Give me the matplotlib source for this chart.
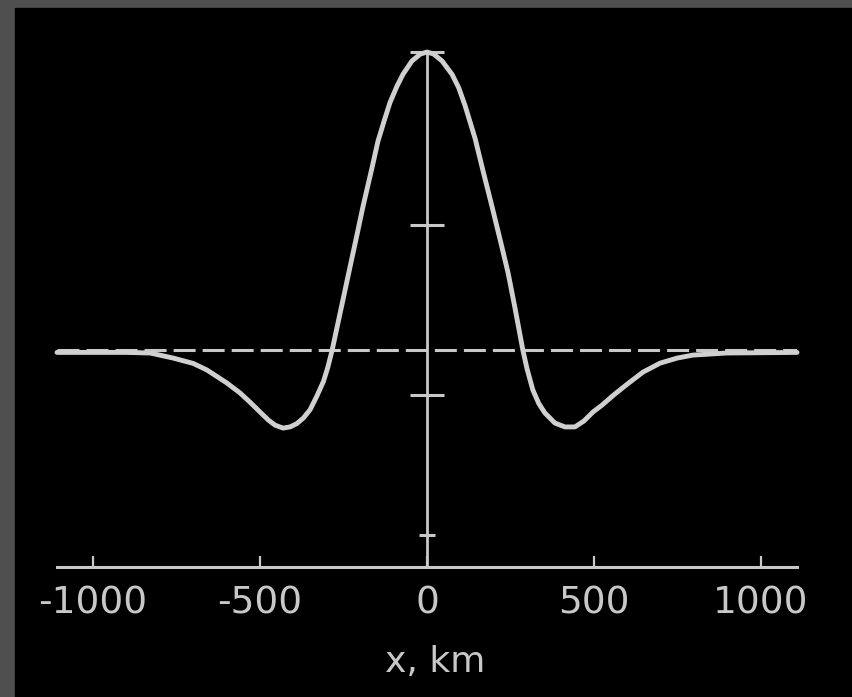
import matplotlib
matplotlib.use("Agg")
import matplotlib.pyplot as plt
from matplotlib.patches import Rectangle

# profile (x in km, y in relative units, peak = 1)
x_km = [-1108, -900, -829, -760, -700, -659, -600, -560, -530, -500, -475, -455, -431,
        -410, -390, -370, -350, -330, -310, -297, -284, -260, -237, -210, -192, -165,
        -147, -128, -111, -90, -72, -45, -20, 0, 20, 45, 75, 95, 114, 144, 168, 195,
        219, 243, 263, 287, 300, 317, 335, 353, 383, 413, 443, 470, 497, 524, 560, 599,
        647, 698, 749, 796, 898, 1108]
y_rel = [-0.008, -0.008, -0.01, -0.027, -0.045, -0.067, -0.11, -0.144, -0.175, -0.208,
         -0.235, -0.252, -0.262, -0.258, -0.247, -0.228, -0.2, -0.155, -0.105, -0.058,
         0.0, 0.125, 0.245, 0.385, 0.48, 0.61, 0.7, 0.77, 0.83, 0.885, 0.925, 0.97, 0.993,
         1.0, 0.993, 0.97, 0.925, 0.88, 0.82, 0.71, 0.6, 0.48, 0.37, 0.258, 0.144, 0.0,
         -0.065, -0.134, -0.18, -0.211, -0.245, -0.258, -0.258, -0.238, -0.208, -0.185,
         -0.15, -0.115, -0.074, -0.044, -0.027, -0.017, -0.01, -0.008]

x_ticks = [-1000, -500, 0, 500, 1000]
x_tick_labels = ["-1000", "-500", "0", "500", "1000"]
y_ticks_big = [1.0, 0.42, -0.15]
y_ticks_small = [-0.62]

fg = "#c8c8c8"

fig = plt.figure(figsize=(8.52, 6.97), dpi=100, facecolor="#4f4f4f")
# black scan area, gray frame shows on top and left
fig.patches.append(Rectangle((15 / 852, 0), 837 / 852, 689 / 697,
                             transform=fig.transFigure, color="black", zorder=-5))

ax = fig.add_axes([57 / 852, 130 / 697, 740 / 852, 515 / 697])
ax.set_facecolor("none")
ax.set_xlim(-1108, 1108)
ax.set_ylim(-0.728, 1.0)

# zero level, dashed
ax.axhline(0, color=fg, lw=2.2, dashes=(7.2, 2.3), zorder=2)
ax.plot(x_km, y_rel, color="#d0d0d0", lw=3.5, solid_joinstyle="round",
        solid_capstyle="round", clip_on=False, zorder=3)

# axes: x line at bottom, y line through zero
ax.spines["top"].set_visible(False)
ax.spines["right"].set_visible(False)
ax.spines["bottom"].set_color(fg)
ax.spines["bottom"].set_linewidth(2.2)
ax.spines["left"].set_position(("data", 0))
ax.spines["left"].set_color(fg)
ax.spines["left"].set_linewidth(2.0)

ax.set_xticks(x_ticks)
ax.set_xticklabels(x_tick_labels, fontsize=27, color=fg, family="DejaVu Sans")
ax.tick_params(axis="x", direction="in", length=8, width=1.6, color=fg, pad=13)

ax.set_yticks(y_ticks_big)
ax.set_yticks(y_ticks_small, minor=True)
ax.tick_params(axis="y", which="major", direction="inout", length=24, width=2.2,
               color=fg, labelleft=False)
ax.tick_params(axis="y", which="minor", direction="inout", length=12, width=2.2,
               color=fg, labelleft=False)

fig.text(435 / 852, 25 / 697, "x, km", fontsize=26, color=fg, ha="center", va="baseline")

fig.savefig("out.png", dpi=100, facecolor=fig.get_facecolor())
